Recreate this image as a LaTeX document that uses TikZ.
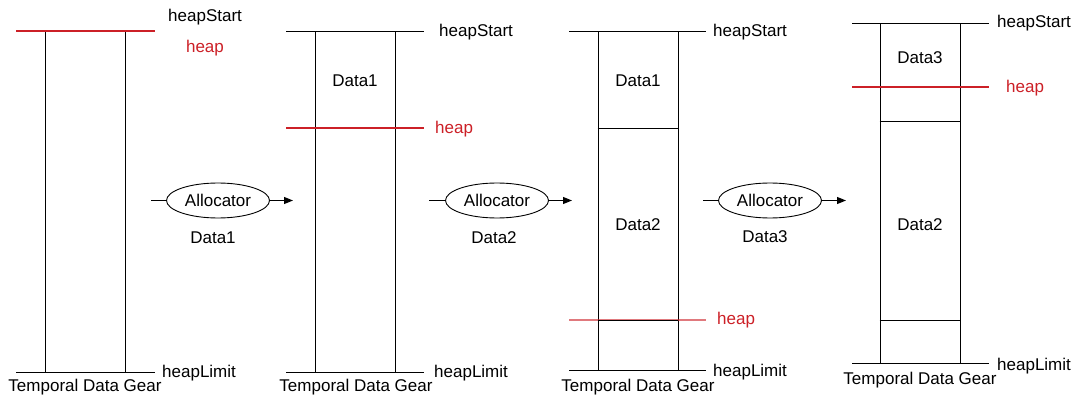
\documentclass[tikz,border=0pt]{standalone}
\usepackage{fontspec}
\setmainfont{Liberation Sans}
\usetikzlibrary{shapes.geometric,arrows.meta}
\definecolor{heapred}{RGB}{204,32,39}
\begin{document}
\begin{tikzpicture}[x=1pt,y=-1pt,
  lbl/.style={inner sep=0pt,font=\fontsize{17}{20}\selectfont},
  redlbl/.style={lbl,text=heapred},
  gear/.style={draw,line width=0.9pt,minimum width=80pt,inner sep=0pt},
  rline/.style={draw=heapred,line width=1.1pt},
  bline/.style={draw=black,line width=0.9pt},
  alloc/.style={ellipse,draw,line width=0.9pt,minimum width=103pt,minimum height=35pt,inner sep=0pt,font=\fontsize{17}{20}\selectfont},
  arr/.style={line width=0.9pt,-{Triangle[length=9pt,width=7pt]}},
  feed/.style={line width=0.9pt}]
\useasboundingbox (0,0) rectangle (1076,398);

% ---------- Panel 1 ----------
\node[gear,minimum height=341pt] (g1) at (85,201.5) {};
\coordinate (p1tl) at (16,31); \coordinate (p1tr) at (155,31);
\coordinate (p1bl) at (16,372); \coordinate (p1br) at (155,372);
\draw[bline] (p1bl) -- (p1br);
\draw[bline] (p1tl) -- (p1tr);
\draw[rline] (p1tl) -- (p1tr);
\node[lbl,anchor=west] (s1) at (168,17) {heapStart};
\node[redlbl] (h1) at (205,48) {heap};
\node[lbl,anchor=west] (l1) at (162,373) {heapLimit};
\node[lbl] (t1) at (85,387) {Temporal Data Gear};

% ---------- Allocator 1 ----------
\node[alloc] (a1) at (218,200.5) {Allocator};
\node[lbl] (d1) at (213,238) {Data1};
\coordinate (a1in) at (151,200.5); \coordinate (a1out) at (293,200.5);
\draw[feed] (a1in) -- (a1.west);
\draw[arr] (a1.east) -- (a1out);

% ---------- Panel 2 ----------
\node[gear,minimum height=341pt] (g2) at (355,201.5) {};
\coordinate (p2tl) at (286,31); \coordinate (p2tr) at (424,31);
\coordinate (p2ml) at (286,128); \coordinate (p2mr) at (424,128);
\coordinate (p2bl) at (286,372); \coordinate (p2br) at (424,372);
\draw[bline] (p2tl) -- (p2tr);
\draw[bline] (p2bl) -- (p2br);
\draw[rline] (p2ml) -- (p2mr);
\node[lbl] (x21) at (355,81) {Data1};
\node[lbl,anchor=west] (s2) at (439,32) {heapStart};
\node[redlbl,anchor=west] (h2) at (435,129) {heap};
\node[lbl,anchor=west] (l2) at (434,373) {heapLimit};
\node[lbl] (t2) at (356,387) {Temporal Data Gear};

% ---------- Allocator 2 ----------
\node[alloc] (a2) at (497,200.5) {Allocator};
\node[lbl] (d2) at (494,238) {Data2};
\coordinate (a2in) at (429,200.5); \coordinate (a2out) at (572,200.5);
\draw[feed] (a2in) -- (a2.west);
\draw[arr] (a2.east) -- (a2out);

% ---------- Panel 3 ----------
\node[gear,minimum height=339pt] (g3) at (638,200.5) {};
\coordinate (p3tl) at (569,31); \coordinate (p3tr) at (706,31);
\coordinate (p3bl) at (569,370); \coordinate (p3br) at (706,370);
\coordinate (p3rl) at (569,320); \coordinate (p3rr) at (706,320);
\draw[bline] (p3tl) -- (p3tr);
\draw[bline] (p3bl) -- (p3br);
\draw[bline] (g3.west |- 0,128) -- (g3.east |- 0,128);
\draw[rline,draw opacity=0.6] (p3rl) -- (p3rr);
\draw[bline] (g3.west |- 0,320) -- (g3.east |- 0,320);
\node[lbl] (x31) at (638,81) {Data1};
\node[lbl] (x32) at (638,225) {Data2};
\node[lbl,anchor=west] (s3) at (713,32) {heapStart};
\node[redlbl,anchor=west] (h3) at (717,320) {heap};
\node[lbl,anchor=west] (l3) at (713,372) {heapLimit};
\node[lbl] (t3) at (638,387) {Temporal Data Gear};

% ---------- Allocator 3 ----------
\node[alloc] (a3) at (770,200.5) {Allocator};
\node[lbl] (d3) at (765,237) {Data3};
\coordinate (a3in) at (703,200.5); \coordinate (a3out) at (846,200.5);
\draw[feed] (a3in) -- (a3.west);
\draw[arr] (a3.east) -- (a3out);

% ---------- Panel 4 ----------
\node[gear,minimum height=340pt] (g4) at (920,193) {};
\coordinate (p4tl) at (852,23); \coordinate (p4tr) at (989,23);
\coordinate (p4bl) at (852,363); \coordinate (p4br) at (989,363);
\coordinate (p4rl) at (852,87); \coordinate (p4rr) at (989,87);
\draw[bline] (p4tl) -- (p4tr);
\draw[bline] (p4bl) -- (p4br);
\draw[bline] (g4.west |- 0,87) -- (g4.east |- 0,87);
\draw[rline] (p4rl) -- (p4rr);
\draw[bline] (g4.west |- 0,121) -- (g4.east |- 0,121);
\draw[bline] (g4.west |- 0,320) -- (g4.east |- 0,320);
\node[lbl] (x43) at (920,58) {Data3};
\node[lbl] (x42) at (920,225) {Data2};
\node[lbl,anchor=west] (s4) at (997,23) {heapStart};
\node[redlbl,anchor=west] (h4) at (1006,88) {heap};
\node[lbl,anchor=west] (l4) at (997,366) {heapLimit};
\node[lbl] (t4) at (920,380) {Temporal Data Gear};
\end{tikzpicture}
\end{document}
